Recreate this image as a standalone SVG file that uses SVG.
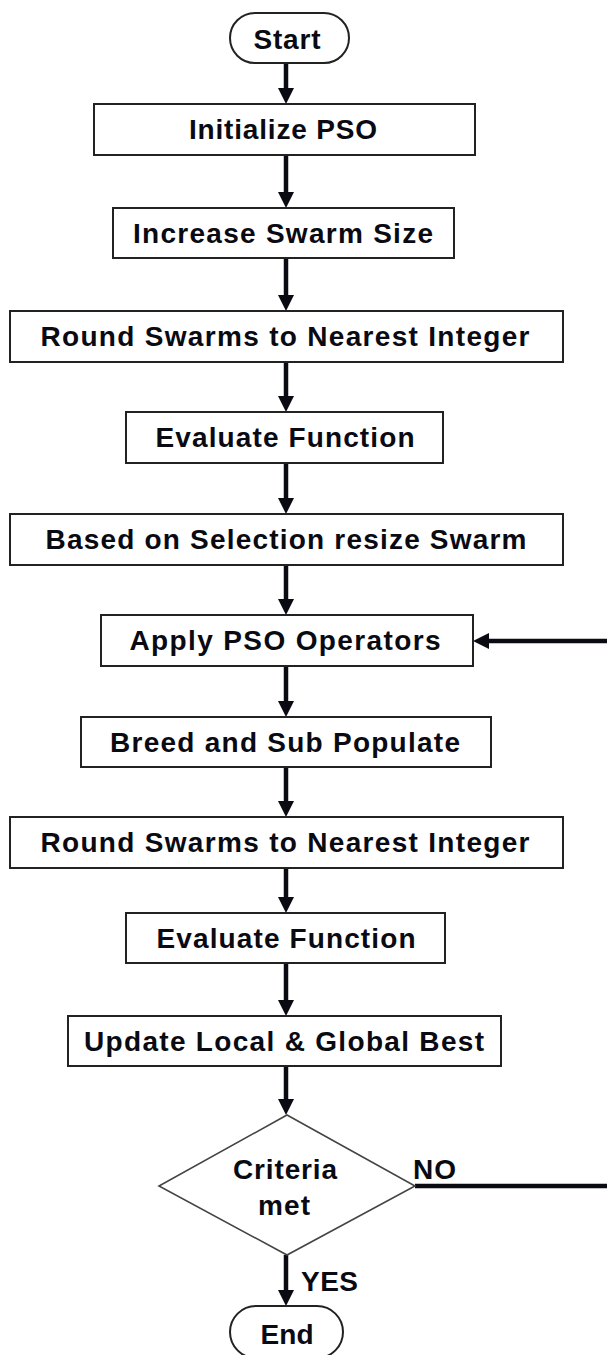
<svg xmlns="http://www.w3.org/2000/svg" width="607" height="1355" viewBox="0 0 607 1355">
<style>
.box{fill:#fff;stroke:#222;stroke-width:2}
.dia{fill:#fff;stroke:#444;stroke-width:1.6}
.t{font-family:"Liberation Sans",Arial,sans-serif;font-weight:bold;font-size:28px;fill:#0a0a12;text-anchor:middle}
.lbl{font-family:"Liberation Sans",Arial,sans-serif;font-weight:bold;font-size:28px;fill:#0a0a12}
.ln{stroke:#0a0a12;stroke-width:4.5;fill:none}
.ah{fill:#0a0a12}
</style>
<rect width="607" height="1355" fill="#fff"/>
<g id="connectors">
<line class="ln" x1="286" y1="63" x2="286" y2="92"/><polygon class="ah" points="278,88 294,88 286,104"/>
<line class="ln" x1="286" y1="155" x2="286" y2="196"/><polygon class="ah" points="278,192 294,192 286,208"/>
<line class="ln" x1="286" y1="258" x2="286" y2="299"/><polygon class="ah" points="278,295 294,295 286,311"/>
<line class="ln" x1="286" y1="362" x2="286" y2="400"/><polygon class="ah" points="278,396 294,396 286,412"/>
<line class="ln" x1="286" y1="463" x2="286" y2="502"/><polygon class="ah" points="278,498 294,498 286,514"/>
<line class="ln" x1="286" y1="565" x2="286" y2="603"/><polygon class="ah" points="278,599 294,599 286,615"/>
<line class="ln" x1="286" y1="666" x2="286" y2="705"/><polygon class="ah" points="278,701 294,701 286,717"/>
<line class="ln" x1="286" y1="767" x2="286" y2="805"/><polygon class="ah" points="278,801 294,801 286,817"/>
<line class="ln" x1="286" y1="868" x2="286" y2="901"/><polygon class="ah" points="278,897 294,897 286,913"/>
<line class="ln" x1="286" y1="963" x2="286" y2="1004"/><polygon class="ah" points="278,1000 294,1000 286,1016"/>
<line class="ln" x1="286" y1="1066" x2="286" y2="1103"/><polygon class="ah" points="278,1099 294,1099 286,1115"/>
<line class="ln" x1="286" y1="1255" x2="286" y2="1294"/><polygon class="ah" points="278,1290 294,1290 286,1306"/>
<line class="ln" x1="415" y1="1186" x2="607" y2="1186"/>
<line class="ln" x1="607" y1="641" x2="485" y2="641"/><polygon class="ah" points="489,633 489,649 473,641"/>
</g>
<g id="start"><rect class="box" x="230" y="13" width="119" height="50" rx="25"/><text class="t" x="287" y="49" textLength="67" lengthAdjust="spacing">Start</text></g>
<g id="init"><rect class="box" x="94" y="104" width="381" height="51"/><text class="t" x="283" y="139" textLength="188" lengthAdjust="spacing">Initialize PSO</text></g>
<g id="increase"><rect class="box" x="113" y="208" width="341" height="50"/><text class="t" x="283" y="242.5" textLength="300" lengthAdjust="spacing">Increase Swarm Size</text></g>
<g id="round1"><rect class="box" x="10" y="311" width="553" height="51"/><text class="t" x="285" y="346" textLength="489" lengthAdjust="spacing">Round Swarms to Nearest Integer</text></g>
<g id="eval1"><rect class="box" x="126" y="412" width="317" height="51"/><text class="t" x="285" y="447" textLength="259" lengthAdjust="spacing">Evaluate Function</text></g>
<g id="based"><rect class="box" x="10" y="514" width="553" height="51"/><text class="t" x="286" y="549" textLength="481" lengthAdjust="spacing">Based on Selection resize Swarm</text></g>
<g id="apply"><rect class="box" x="101" y="615" width="372" height="51"/><text class="t" x="285" y="650" textLength="311" lengthAdjust="spacing">Apply PSO Operators</text></g>
<g id="breed"><rect class="box" x="81" y="717" width="410" height="50"/><text class="t" x="285" y="751.5" textLength="350" lengthAdjust="spacing">Breed and Sub Populate</text></g>
<g id="round2"><rect class="box" x="10" y="817" width="553" height="51"/><text class="t" x="285" y="852" textLength="489" lengthAdjust="spacing">Round Swarms to Nearest Integer</text></g>
<g id="eval2"><rect class="box" x="126" y="913" width="319" height="50"/><text class="t" x="286" y="947.5" textLength="259" lengthAdjust="spacing">Evaluate Function</text></g>
<g id="update"><rect class="box" x="68" y="1016" width="433" height="50"/><text class="t" x="284" y="1050.5" textLength="400" lengthAdjust="spacing">Update Local &amp; Global Best</text></g>
<g id="criteria"><polygon class="dia" points="287,1115 415,1186 287,1255 159,1186"/><text class="t" x="285" y="1179" textLength="104" lengthAdjust="spacing">Criteria</text><text class="t" x="284" y="1215" textLength="52" lengthAdjust="spacing">met</text></g>
<g id="labels"><text class="lbl" x="413" y="1179" textLength="43" lengthAdjust="spacing">NO</text><text class="lbl" x="301" y="1291" textLength="57" lengthAdjust="spacing">YES</text></g>
<g id="end"><rect class="box" x="230" y="1306" width="113" height="52" rx="26"/><text class="t" x="287" y="1344" textLength="53" lengthAdjust="spacing">End</text></g>
</svg>
